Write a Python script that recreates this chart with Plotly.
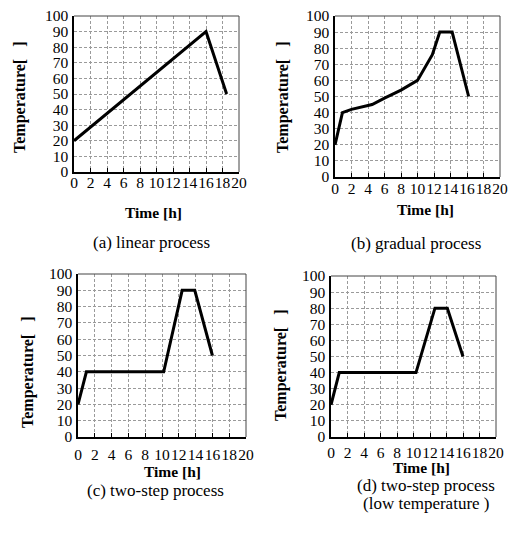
import plotly.graph_objects as go

# ---- data ----
time_a = [0, 16, 18.5]
temp_a = [20, 90, 50]

time_b = [0, 0.9, 2, 4.5, 6, 8, 10, 11.8, 12.7, 14.2, 16.2]
temp_b = [20, 40, 42, 45, 49, 54, 60, 76, 90, 90, 50]

time_c = [0, 1, 10.2, 12.4, 13.9, 16]
temp_c = [20, 40, 40, 90, 90, 50]

time_d = [0, 1, 10.3, 12.6, 14.1, 16]
temp_d = [20, 40, 40, 80, 80, 50]

x_ticks = [0, 2, 4, 6, 8, 10, 12, 14, 16, 18, 20]
y_ticks = [0, 10, 20, 30, 40, 50, 60, 70, 80, 90, 100]

captions = [["(a) linear process"], ["(b) gradual process"], ["(c) two-step process"],
            ["(d) two-step process", "(low temperature )"]]
x_title = "Time [h]"
y_title = "Temperature[&nbsp;&nbsp;&nbsp;]"

W, H = 517, 535
FONT = "'Liberation Serif', 'Times New Roman', Times, serif"

# panel pixel boxes: left, right, top, bottom
boxes = [(74, 239, 16, 172), (335, 500, 16, 177), (78, 246, 274, 437), (331, 496, 276, 437)]
series = [(time_a, temp_a), (time_b, temp_b), (time_c, temp_c), (time_d, temp_d)]
x_standoff = [-5, -4, 2, 0]
# text positions (pixels)
xtitle_pos = [(153, 212), (425, 209), (172, 471), (421, 467)]
ytitle_pos = [(20, 97), (283, 97), (28, 372), (281, 365)]
caption_pos = [(151, 242), (416, 243), (155, 490), (426, 485)]
caption_line_gap = 18

fig = go.Figure()
annotations = []
shapes = []

def px(x):
    return x / W

def py(y):
    return 1 - y / H

for i, ((l, r, t, b), (xs, ys)) in enumerate(zip(boxes, series)):
    n = "" if i == 0 else str(i + 1)
    fig.add_trace(go.Scatter(x=xs, y=ys, mode="lines",
                             line=dict(color="black", width=3),
                             xaxis="x" + n, yaxis="y" + n, showlegend=False,
                             hoverinfo="skip"))
    fig.layout["xaxis" + n] = dict(
        domain=[px(l), px(r)], anchor="y" + n, range=[0, 20],
        tickvals=x_ticks, ticktext=[str(v) for v in x_ticks], tickangle=0,
        ticks="inside", ticklen=4, tickcolor="black", tickwidth=1,
        showline=True, linecolor="black", linewidth=2,
        showgrid=True, gridcolor="#9a9a9a", gridwidth=1, griddash="3px,2px",
        zeroline=False, tickfont=dict(family=FONT, size=15.5, color="black"),
        ticklabelstandoff=x_standoff[i], fixedrange=True, automargin=False)
    fig.layout["yaxis" + n] = dict(
        domain=[py(b), py(t)], anchor="x" + n, range=[0, 100],
        tickvals=y_ticks, ticktext=[str(v) for v in y_ticks],
        ticks="", showline=True, linecolor="black", linewidth=1.5,
        showgrid=True, gridcolor="#9a9a9a", gridwidth=1, griddash="3px,2px",
        zeroline=False, tickfont=dict(family=FONT, size=15.5, color="black"),
        ticklabelstandoff=1, fixedrange=True, automargin=False)
    # top/right border
    shapes.append(dict(type="line", xref="x" + n + " domain", yref="y" + n + " domain",
                       x0=0, x1=1, y0=1, y1=1, line=dict(color="#444", width=1)))
    shapes.append(dict(type="line", xref="x" + n + " domain", yref="y" + n + " domain",
                       x0=1, x1=1, y0=0, y1=1, line=dict(color="#444", width=1)))
    annotations.append(dict(text="<b>" + x_title + "</b>", x=px(xtitle_pos[i][0]), y=py(xtitle_pos[i][1]),
                            xref="paper", yref="paper", showarrow=False,
                            xanchor="center", yanchor="middle",
                            font=dict(family=FONT, size=15.5, color="black")))
    annotations.append(dict(text="<b>" + y_title + "</b>", x=px(ytitle_pos[i][0]), y=py(ytitle_pos[i][1]),
                            xref="paper", yref="paper", showarrow=False, textangle=-90,
                            xanchor="center", yanchor="middle",
                            font=dict(family=FONT, size=16, color="black")))
    for k, line in enumerate(captions[i]):
        annotations.append(dict(text=line, x=px(caption_pos[i][0]),
                                y=py(caption_pos[i][1] + k * caption_line_gap),
                                xref="paper", yref="paper", showarrow=False,
                                xanchor="center", yanchor="middle",
                                font=dict(family=FONT, size=17, color="black")))

fig.update_layout(width=W, height=H, margin=dict(l=0, r=0, t=0, b=0, pad=0),
                  autosize=False,
                  paper_bgcolor="white", plot_bgcolor="white",
                  annotations=annotations, shapes=shapes)

fig.write_html("out.html", config={"displayModeBar": False, "responsive": False},
               post_script="document.body.style.margin='0px';document.body.style.overflow='hidden';")
